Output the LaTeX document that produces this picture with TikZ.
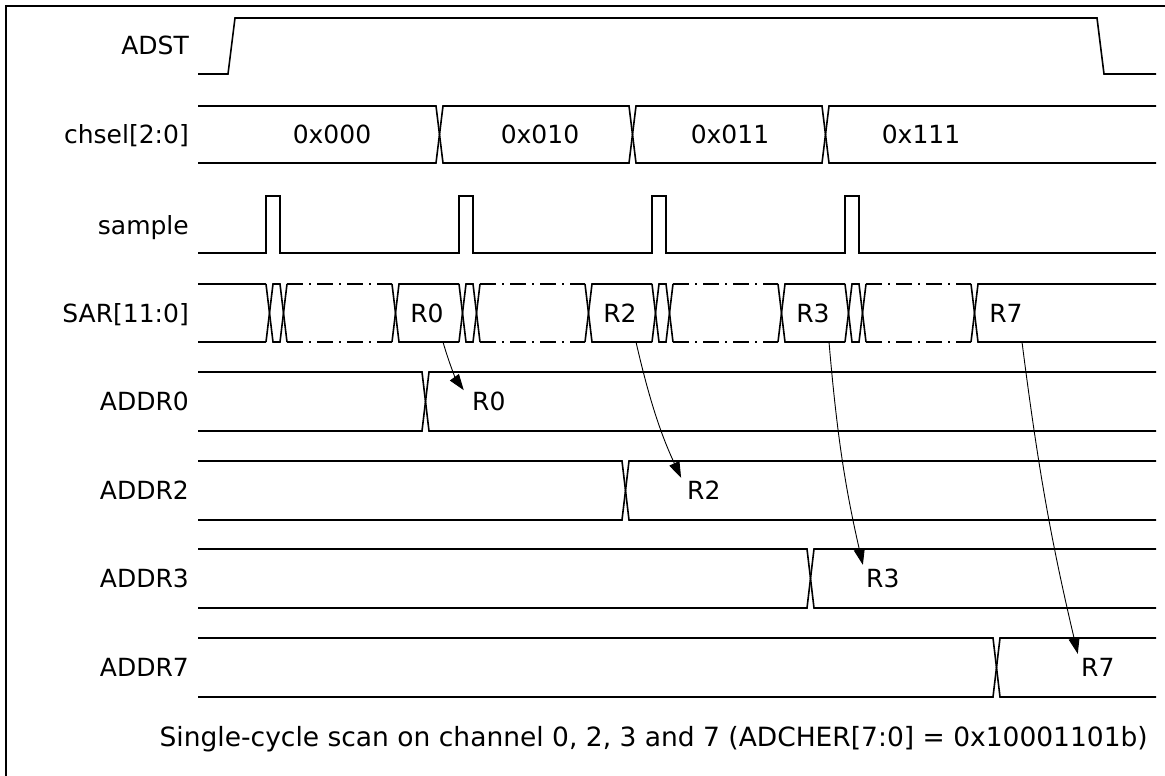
\documentclass[tikz,border=0pt]{standalone}
\usepackage{fontspec}
\setmainfont{DejaVu Sans}
\usetikzlibrary{arrows.meta}

\tikzset{
  sig/.style={line width=1.6pt},
  dashdot/.style={sig, dash pattern=on 16pt off 6pt on 2pt off 6pt},
  lbl/.style={font=\fontsize{25}{30}\selectfont, inner sep=0pt, text height=18pt, text depth=0pt},
  link/.style={line width=0.9pt, -{Triangle[length=16pt,width=11pt]}, shorten >=14pt},
}

\begin{document}
\begin{tikzpicture}[x=1pt, y=-1pt]
	\useasboundingbox (0,0) rectangle (1165,776);
	\draw[line width=2.2pt] (6,776) -- (6,6) -- (1165,6);

	% signal names
	\node[lbl, anchor=east] (labADST) at (189,46) {ADST};
	\node[lbl, anchor=east] (labCHSEL) at (189,134) {chsel[2:0]};
	\node[lbl, anchor=east] (labSAMPLE) at (189,225) {sample};
	\node[lbl, anchor=east] (labSAR) at (189,313) {SAR[11:0]};

	% ADST
	\draw[sig] (198,74) -- (228,74) -- (235,18) -- (1097,18) -- (1104,74) -- (1156,74);

	% chsel[2:0]
	\draw[sig] (198,106) -- (436,106) -- (443,163) -- (629,163) -- (636,106) -- (822,106) -- (829,163) -- (1156,163);
	\draw[sig] (198,163) -- (436,163) -- (443,106) -- (629,106) -- (636,163) -- (822,163) -- (829,106) -- (1156,106);
	\node[lbl] (ch0) at (332,134) {0x000};
	\node[lbl] (ch2) at (540,134) {0x010};
	\node[lbl] (ch3) at (730,134) {0x011};
	\node[lbl] (ch7) at (921,134) {0x111};

	% sample
	\draw[sig] (198,253) \foreach \s in {266,459,652,845} {
		-- (\s,253) -- (\s,196) -- (\s+14,196) -- (\s+14,253)} -- (1156,253);

	% SAR[11:0]
	\draw[sig] (198,284) -- (266,284);
	\draw[sig] (198,342) -- (266,342);
	\foreach \s/\e/\r in {266/459/R0, 459/652/R2, 652/845/R3, 845/1156/R7} {
		\draw[sig] (\s,284) -- (\s+7,342) -- (\s+14,342) -- (\s+21,284);
		\draw[sig] (\s,342) -- (\s+7,284) -- (\s+14,284) -- (\s+21,342);
		\draw[dashdot] (\s+21,284) -- (\s+126,284);
		\draw[dashdot] (\s+21,342) -- (\s+126,342);
		\draw[sig] (\s+126,284) -- (\s+133,342) -- (\e,342);
		\draw[sig] (\s+126,342) -- (\s+133,284) -- (\e,284);
		\node[lbl] (sar\r) at (\s+161,313) {\r};
		\coordinate (src\r) at (\s+177,342);
	}

	% ADDRn
	\foreach \n/\t/\a/\lx/\r/\b in {ADDR0/372/422/472/R0/10, ADDR2/461/622/687/R2/6, ADDR3/549/807/866/R3/4, ADDR7/638/993/1081/R7/3} {
		\draw[sig] (198,\t) -- (\a,\t) -- (\a+7,\t+59) -- (1156,\t+59);
		\draw[sig] (198,\t+59) -- (\a,\t+59) -- (\a+7,\t) -- (1156,\t);
		\node[lbl, anchor=east] (lab\n) at (189,\t+29.5) {\n};
		\node[lbl, anchor=west] (val\r) at (\lx,\t+29.5) {\r};
		\draw[link] (src\r) to[bend right=\b] (val\r.west);
	}

	\node[lbl, anchor=east, font=\fontsize{26.5}{31}\selectfont] (caption) at (1148,737) {Single-cycle scan on channel 0, 2, 3 and 7 (ADCHER[7:0] = 0x10001101b)};
\end{tikzpicture}
\end{document}
